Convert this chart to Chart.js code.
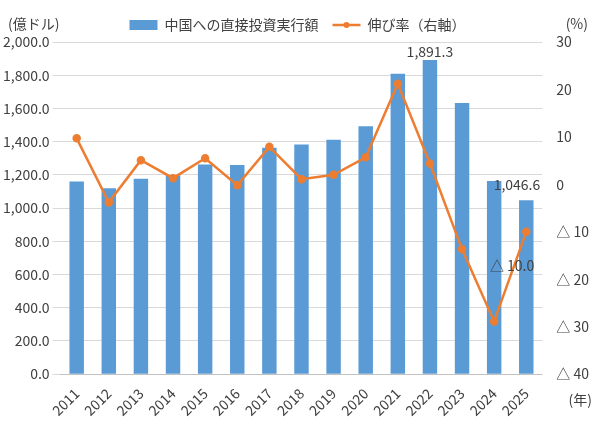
<!DOCTYPE html>
<html><head><meta charset="utf-8">
<script src="https://cdn.jsdelivr.net/npm/chart.js@4"></script>
<style>body{margin:0;background:#fff}#wrap{width:599px;height:422px}</style>
</head><body><div id="wrap"><canvas id="c"></canvas></div>
<script>
const years = ['2011','2012','2013','2014','2015','2016','2017','2018','2019','2020','2021','2022','2023','2024','2025'];
const investment = [1160, 1120, 1176, 1197, 1262, 1260, 1363, 1383, 1412, 1493, 1809, 1891.3, 1632, 1163, 1046.6];
const growth = [9.7, -3.8, 5.1, 1.3, 5.5, -0.2, 7.9, 1.1, 2.0, 5.7, 21.2, 4.4, -13.7, -28.9, -10.0];

const FONT = "'Noto Sans CJK JP', 'Noto Sans', sans-serif";
Chart.defaults.font.family = FONT;
Chart.defaults.font.size = 13;
Chart.defaults.color = '#404040';

const extraText = {
  id: 'extraText',
  afterDatasetsDraw(chart) {
    const {ctx, scales: {x, y, y1}} = chart;
    ctx.save();
    ctx.fillStyle = '#404040';
    ctx.font = '14px ' + FONT;
    ctx.textAlign = 'center';
    ctx.fillText('1,891.3', x.getPixelForValue(11), y.getPixelForValue(1891.3) - 8);
    ctx.textAlign = 'right';
    ctx.fillText('1,046.6', x.getPixelForValue(14) + 14, y.getPixelForValue(1046.6) - 16);
    ctx.fillText('△ 10.0', x.getPixelForValue(14) + 8, y1.getPixelForValue(-10) + 34);
    ctx.textAlign = 'left';
    ctx.fillText('(億ドル)', 8, 24);
    ctx.textAlign = 'right';
    ctx.fillText('(%)', 588, 24);
    ctx.fillText('(年)', 592, 400);
    ctx.restore();
  }
};

new Chart(document.getElementById('c'), {
  type: 'bar',
  data: {
    labels: years,
    datasets: [{
      type: 'line',
      label: '伸び率（右軸）',
      data: growth,
      yAxisID: 'y1',
      borderColor: '#ED7D31',
      backgroundColor: '#ED7D31',
      borderWidth: 2.5,
      pointRadius: 3,
      pointBackgroundColor: '#ED7D31',
      order: 0
    }, {
      label: '中国への直接投資実行額',
      data: investment,
      yAxisID: 'y',
      backgroundColor: '#5B9BD5',
      categoryPercentage: 0.9,
      barPercentage: 0.5,
      order: 1
    }]
  },
  options: {
    responsive: true,
    maintainAspectRatio: false,
    animation: false,
    layout: {padding: {left: 0, right: 4, top: 4, bottom: 0}},
    plugins: {
      legend: {
        reverse: true,
        labels: {
          boxWidth: 28, boxHeight: 10, padding: 14,
          font: {size: 14},
          generateLabels(chart) {
            const items = Chart.defaults.plugins.legend.labels.generateLabels(chart);
            items.forEach(it => {
              if (it.datasetIndex === 0) { it.fillStyle = 'rgba(0,0,0,0)'; it.lineWidth = 0; }
            });
            return items;
          }
        }
      },
      tooltip: {enabled: false}
    },
    scales: {
      x: {
        grid: {display: false},
        ticks: {maxRotation: 45, minRotation: 45, color: '#404040', font: {size: 14}}
      },
      y: {
        position: 'left',
        min: 0, max: 2000,
        ticks: {stepSize: 200, font: {size: 14}, callback: v => v.toLocaleString('en-US', {minimumFractionDigits: 1, maximumFractionDigits: 1})},
        grid: {color: '#d9d9d9'},
        border: {display: false}
      },
      y1: {
        position: 'right',
        min: -40, max: 30,
        ticks: {stepSize: 10, font: {size: 14}, callback: v => v < 0 ? '△ ' + (-v) : String(v), padding: 6},
        grid: {display: false},
        border: {display: false}
      }
    }
  },
  plugins: [extraText, {
    id: 'legendLine',
    afterDraw(chart) {
      const lg = chart.legend;
      const hb = lg.legendHitBoxes, items = lg.legendItems;
      const i = items.findIndex(it => it.datasetIndex === 0);
      if (i < 0) return;
      const b = hb[i], ctx = chart.ctx;
      const cy = b.top + b.height / 2;
      ctx.save();
      ctx.strokeStyle = '#ED7D31'; ctx.fillStyle = '#ED7D31'; ctx.lineWidth = 2.5;
      ctx.beginPath(); ctx.moveTo(b.left, cy); ctx.lineTo(b.left + 28, cy); ctx.stroke();
      ctx.beginPath(); ctx.arc(b.left + 14, cy, 3, 0, Math.PI * 2); ctx.fill();
      ctx.restore();
    }
  }]
});
</script></body></html>
